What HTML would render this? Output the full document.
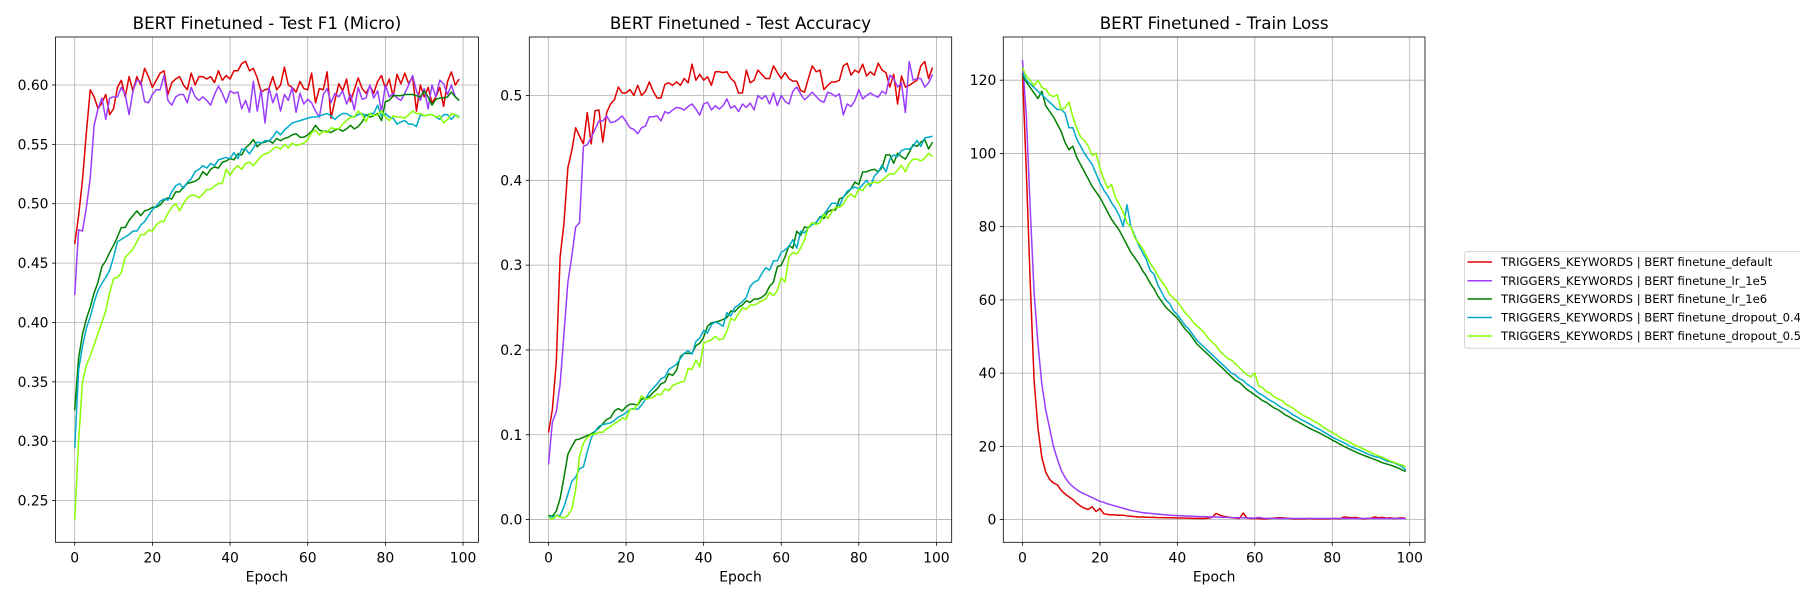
<!DOCTYPE html>
<html><head><meta charset="utf-8">
<style>
html,body{margin:0;padding:0;background:#fff;}
svg{display:block;font-family:"DejaVu Sans","Liberation Sans",sans-serif;}
</style></head>
<body>
<svg id="fig" width="1800" height="600" viewBox="0 0 1800 600" xmlns="http://www.w3.org/2000/svg"></svg>
<script>
const epochs = Array.from({length:100},(_,i)=>i);
const seriesNames = ["TRIGGERS_KEYWORDS | BERT finetune_default","TRIGGERS_KEYWORDS | BERT finetune_lr_1e5","TRIGGERS_KEYWORDS | BERT finetune_lr_1e6","TRIGGERS_KEYWORDS | BERT finetune_dropout_0.4","TRIGGERS_KEYWORDS | BERT finetune_dropout_0.5"];
const seriesKeys = ["default","lr-1e5","lr-1e6","dropout-0-4","dropout-0-5"];
const seriesColors = ["#e00000","#9b3dff","#008000","#00aac8","#88ff00"];

const f1Default = [0.466,0.49,0.52,0.56,0.596,0.59,0.58,0.585,0.592,0.575,0.58,0.598,0.604,0.59,0.607,0.595,0.607,0.60,0.614,0.607,0.598,0.604,0.61,0.612,0.592,0.602,0.605,0.607,0.60,0.596,0.61,0.60,0.607,0.607,0.605,0.607,0.602,0.612,0.604,0.608,0.605,0.612,0.612,0.618,0.62,0.612,0.614,0.606,0.594,0.596,0.597,0.607,0.596,0.6,0.615,0.6,0.598,0.594,0.603,0.597,0.596,0.61,0.585,0.597,0.596,0.611,0.572,0.587,0.601,0.595,0.605,0.586,0.596,0.606,0.597,0.593,0.599,0.593,0.603,0.608,0.597,0.605,0.59,0.609,0.601,0.61,0.601,0.607,0.578,0.6,0.59,0.598,0.585,0.59,0.598,0.582,0.603,0.611,0.6,0.605];
const f1Lr1e5 = [0.423,0.478,0.477,0.497,0.522,0.566,0.58,0.589,0.571,0.589,0.59,0.59,0.598,0.592,0.575,0.595,0.604,0.603,0.586,0.585,0.592,0.596,0.596,0.608,0.587,0.583,0.59,0.592,0.592,0.585,0.598,0.59,0.587,0.59,0.587,0.583,0.592,0.599,0.593,0.585,0.595,0.593,0.594,0.58,0.587,0.577,0.603,0.578,0.596,0.568,0.598,0.585,0.593,0.578,0.592,0.587,0.598,0.577,0.593,0.584,0.588,0.585,0.578,0.573,0.592,0.597,0.585,0.593,0.59,0.595,0.584,0.592,0.579,0.598,0.588,0.589,0.6,0.589,0.595,0.578,0.6,0.59,0.593,0.589,0.587,0.593,0.6,0.608,0.595,0.587,0.597,0.58,0.6,0.59,0.604,0.601,0.592,0.6,0.59,0.587];
const f1Lr1e6 = [0.326,0.37,0.39,0.403,0.413,0.425,0.434,0.447,0.452,0.459,0.465,0.472,0.48,0.48,0.486,0.49,0.494,0.49,0.494,0.495,0.497,0.497,0.499,0.503,0.505,0.504,0.51,0.51,0.514,0.517,0.518,0.519,0.521,0.527,0.524,0.529,0.531,0.53,0.535,0.536,0.538,0.537,0.542,0.541,0.547,0.55,0.554,0.548,0.551,0.552,0.553,0.551,0.555,0.553,0.555,0.556,0.558,0.559,0.556,0.556,0.558,0.561,0.566,0.562,0.561,0.561,0.56,0.562,0.563,0.561,0.563,0.566,0.563,0.565,0.569,0.575,0.573,0.574,0.576,0.57,0.586,0.587,0.591,0.591,0.591,0.592,0.592,0.592,0.591,0.59,0.595,0.59,0.583,0.588,0.589,0.589,0.59,0.594,0.59,0.587];
const f1Drop04 = [0.294,0.36,0.38,0.395,0.405,0.417,0.427,0.433,0.438,0.444,0.455,0.468,0.47,0.472,0.474,0.477,0.477,0.482,0.485,0.49,0.495,0.498,0.502,0.504,0.503,0.51,0.515,0.517,0.513,0.518,0.521,0.527,0.529,0.532,0.53,0.534,0.532,0.537,0.538,0.539,0.538,0.543,0.538,0.546,0.546,0.542,0.547,0.552,0.551,0.553,0.553,0.556,0.561,0.558,0.562,0.565,0.568,0.569,0.57,0.571,0.572,0.573,0.573,0.574,0.575,0.576,0.574,0.571,0.574,0.576,0.576,0.574,0.573,0.575,0.576,0.574,0.576,0.576,0.583,0.574,0.576,0.573,0.572,0.567,0.569,0.57,0.567,0.567,0.565,0.575,0.574,0.575,0.575,0.573,0.571,0.575,0.575,0.571,0.575,0.573];
const f1Drop05 = [0.234,0.3,0.35,0.364,0.372,0.381,0.391,0.4,0.41,0.425,0.437,0.438,0.442,0.455,0.458,0.462,0.468,0.474,0.474,0.478,0.477,0.482,0.485,0.485,0.492,0.497,0.5,0.494,0.5,0.505,0.507,0.507,0.505,0.508,0.512,0.512,0.515,0.517,0.517,0.529,0.524,0.529,0.532,0.529,0.534,0.535,0.532,0.536,0.54,0.542,0.543,0.546,0.548,0.546,0.55,0.547,0.551,0.549,0.55,0.551,0.554,0.56,0.562,0.558,0.561,0.56,0.564,0.563,0.563,0.567,0.57,0.573,0.573,0.578,0.575,0.569,0.576,0.574,0.575,0.578,0.573,0.57,0.574,0.573,0.573,0.572,0.575,0.578,0.576,0.576,0.574,0.575,0.575,0.573,0.574,0.568,0.571,0.576,0.575,0.572];

const accDefault = [0.1025,0.13,0.185,0.31,0.35,0.415,0.435,0.462,0.452,0.443,0.48,0.443,0.482,0.483,0.445,0.48,0.49,0.495,0.51,0.503,0.503,0.507,0.5,0.512,0.5,0.505,0.516,0.505,0.497,0.497,0.513,0.515,0.512,0.516,0.512,0.52,0.515,0.537,0.518,0.525,0.518,0.522,0.512,0.528,0.528,0.527,0.528,0.52,0.516,0.503,0.503,0.53,0.515,0.518,0.53,0.525,0.52,0.52,0.535,0.527,0.52,0.527,0.52,0.517,0.517,0.506,0.504,0.52,0.535,0.528,0.53,0.507,0.512,0.516,0.516,0.518,0.535,0.538,0.524,0.53,0.527,0.537,0.523,0.528,0.524,0.538,0.53,0.527,0.51,0.525,0.49,0.523,0.51,0.512,0.515,0.518,0.535,0.54,0.52,0.533];
const accLr1e5 = [0.065,0.115,0.127,0.16,0.22,0.28,0.31,0.345,0.35,0.44,0.442,0.45,0.46,0.47,0.47,0.476,0.468,0.469,0.472,0.476,0.469,0.462,0.46,0.455,0.462,0.464,0.475,0.475,0.476,0.47,0.481,0.479,0.483,0.486,0.485,0.483,0.487,0.49,0.484,0.477,0.49,0.492,0.483,0.488,0.484,0.488,0.496,0.485,0.488,0.481,0.49,0.486,0.491,0.483,0.5,0.496,0.5,0.49,0.503,0.488,0.5,0.493,0.49,0.505,0.51,0.502,0.495,0.499,0.504,0.499,0.494,0.492,0.504,0.502,0.499,0.502,0.477,0.49,0.487,0.494,0.507,0.496,0.5,0.503,0.5,0.498,0.505,0.502,0.524,0.52,0.51,0.515,0.48,0.54,0.518,0.52,0.52,0.51,0.515,0.525,0.517];
const accLr1e6 = [0.005,0.004,0.01,0.025,0.05,0.077,0.086,0.094,0.095,0.097,0.099,0.101,0.104,0.108,0.113,0.118,0.12,0.128,0.131,0.128,0.133,0.136,0.136,0.135,0.142,0.143,0.145,0.15,0.154,0.16,0.162,0.172,0.17,0.176,0.192,0.196,0.196,0.196,0.205,0.208,0.215,0.228,0.232,0.233,0.234,0.236,0.238,0.246,0.245,0.25,0.253,0.258,0.256,0.26,0.26,0.262,0.266,0.275,0.28,0.298,0.3,0.31,0.323,0.32,0.34,0.335,0.345,0.344,0.348,0.35,0.357,0.355,0.363,0.365,0.365,0.378,0.38,0.385,0.39,0.398,0.395,0.41,0.41,0.412,0.413,0.41,0.415,0.43,0.43,0.42,0.432,0.428,0.425,0.433,0.442,0.44,0.445,0.448,0.437,0.445];
const accDrop04 = [0.004,0.003,0.005,0.005,0.015,0.03,0.045,0.05,0.06,0.062,0.08,0.096,0.104,0.11,0.112,0.113,0.114,0.117,0.121,0.123,0.126,0.13,0.131,0.13,0.135,0.142,0.15,0.155,0.16,0.166,0.168,0.177,0.18,0.183,0.19,0.196,0.199,0.195,0.21,0.214,0.223,0.22,0.23,0.233,0.231,0.228,0.244,0.24,0.25,0.253,0.257,0.262,0.275,0.28,0.282,0.29,0.297,0.294,0.305,0.305,0.315,0.318,0.322,0.33,0.32,0.34,0.338,0.344,0.348,0.35,0.356,0.36,0.366,0.373,0.373,0.37,0.38,0.387,0.39,0.392,0.39,0.395,0.4,0.393,0.405,0.41,0.418,0.41,0.425,0.43,0.428,0.435,0.437,0.437,0.44,0.447,0.44,0.45,0.451,0.452];
const accDrop05 = [0.003,0.0,0.005,0.003,0.002,0.005,0.012,0.035,0.075,0.09,0.097,0.1,0.101,0.103,0.103,0.107,0.11,0.113,0.116,0.12,0.118,0.13,0.13,0.136,0.146,0.142,0.143,0.144,0.148,0.147,0.154,0.152,0.158,0.16,0.162,0.163,0.178,0.177,0.188,0.18,0.208,0.21,0.212,0.216,0.212,0.213,0.222,0.237,0.235,0.243,0.25,0.248,0.253,0.253,0.255,0.258,0.26,0.268,0.264,0.27,0.285,0.28,0.31,0.315,0.313,0.32,0.33,0.345,0.35,0.348,0.35,0.36,0.355,0.363,0.368,0.368,0.372,0.38,0.384,0.38,0.39,0.388,0.395,0.396,0.398,0.397,0.4,0.404,0.408,0.407,0.412,0.418,0.41,0.42,0.425,0.425,0.423,0.426,0.432,0.428];

const lossDefault = [122,95,65,38,25,17,13,11,10,9.5,8,7,6.2,5.5,4.5,3.7,3.1,2.8,3.5,2.2,3,1.6,1.4,1.3,1.3,1.2,1.2,1,0.9,0.8,0.7,0.7,0.65,0.6,0.6,0.55,0.55,0.5,0.5,0.5,0.45,0.45,0.4,0.4,0.35,0.35,0.3,0.3,0.4,0.6,1.7,1.2,0.9,0.7,0.5,0.4,0.3,1.8,0.4,0.3,0.3,0.3,0.2,0.2,0.3,0.4,0.5,0.5,0.4,0.3,0.2,0.2,0.2,0.2,0.3,0.2,0.2,0.2,0.2,0.2,0.3,0.3,0.2,0.7,0.6,0.5,0.6,0.4,0.2,0.3,0.4,0.7,0.5,0.6,0.4,0.5,0.3,0.4,0.5,0.3];
const lossLr1e5 = [125.5,110,85,62,48,37,30,25,20,16.5,13.5,11.5,10,9,8.2,7.5,7,6.5,6,5.5,5,4.7,4.3,4,3.7,3.4,3.1,2.8,2.5,2.3,2.1,1.9,1.8,1.7,1.6,1.5,1.4,1.3,1.2,1.15,1.1,1.05,1,0.95,0.9,0.85,0.8,0.8,0.75,0.7,0.7,0.65,0.6,0.6,0.55,0.5,0.5,0.5,0.45,0.45,0.4,0.6,0.4,0.35,0.35,0.3,0.3,0.3,0.3,0.3,0.3,0.3,0.3,0.3,0.3,0.3,0.3,0.3,0.3,0.3,0.3,0.3,0.3,0.3,0.3,0.3,0.3,0.3,0.3,0.3,0.3,0.3,0.3,0.3,0.3,0.3,0.3,0.3,0.3,0.3];
const lossLr1e6 = [121,119.5,118,116.5,115,117,113,111.5,110,108,106,103,101,102,99,97,95,93,91,89.5,88,86,84,82,80.5,79,77,75,73,71.5,70,68,66.5,64.5,63,61,59.5,58,57,56,55,53.5,52,51,49.5,48,47,46,45,44,43,42,41,40,39,38,37.5,36.5,35.5,34.8,34,33.3,32.5,32,31.2,30.5,30,29.3,28.5,28,27.3,26.8,26.2,25.6,25,24.5,24,23.5,22.9,22.4,21.7,21.2,20.6,20,19.5,19,18.5,18,17.6,17.2,16.8,16.4,16,15.5,15.2,14.9,14.5,14.1,13.6,13.1];
const lossDrop04 = [122,120,119,118,117,116,115,114,113,112,112,111,107,107,104,102,100,98.5,97,94.5,92,90,88.5,86.5,85,83,80,86,80,77.5,75,73,71,68,67,64,62,60,59,57,56,54.5,53,52,50.5,49,48,47,46,45,44,43,42,41,40,39.5,38.5,38,37,36.3,35.5,34.5,34,33.2,32.5,32,31.2,30.5,30,29.3,28.5,28,27.3,26.8,26.2,25.6,25,24.5,23.8,23.2,22.5,22,21.5,21,20.4,19.8,19.4,19,18.5,18,17.6,17.2,17,16.6,16,15.8,15.5,15,14.5,13.5];
const lossDrop05 = [123.5,121,120,118.5,120,118,117.5,116,115.5,116,112,112.5,114,110,107,104.5,103.5,102,99.5,100,96,93,90.5,91.5,88,86,84,81,80,77,75.5,74,72,70,68.5,66.5,65,63.5,61.5,60.5,59.5,58,56.5,55.5,54,53,52,51,49.5,48.5,47.5,46,45,44,43.5,42.5,41.5,40.5,39.5,39,40,36.5,36,35,34.5,33.5,33,32.5,31.5,31,30.3,29.5,28.8,28.2,27.7,27,26.5,25.8,25,24.4,23.8,23.2,22.4,21.9,21.4,20.8,20.3,19.8,19.3,18.8,18.3,17.8,17.4,17,16.5,16,15.6,15.2,14.9,14.4];

const xTicks = [0,20,40,60,80,100];
const f1Ticks = [0.25,0.30,0.35,0.40,0.45,0.50,0.55,0.60];
const accTicks = [0.0,0.1,0.2,0.3,0.4,0.5];
const lossTicks = [0,20,40,60,80,100,120];

const NS="http://www.w3.org/2000/svg";
const svg=document.getElementById('fig');
function mk(tag,attrs,parent){const e=document.createElementNS(NS,tag);for(const k in attrs)e.setAttribute(k,attrs[k]);(parent||svg).appendChild(e);return e;}

const panels=[
 {key:"f1",title:"BERT Finetuned - Test F1 (Micro)",left:55.5,right:478.4,ymin:0.2149,ymax:0.6404,ticks:f1Ticks,fmt:v=>v.toFixed(2),data:[f1Default,f1Lr1e5,f1Lr1e6,f1Drop04,f1Drop05]},
 {key:"accuracy",title:"BERT Finetuned - Test Accuracy",left:529.3,right:951.7,ymin:-0.0268,ymax:0.569,ticks:accTicks,fmt:v=>v.toFixed(1),data:[accDefault,accLr1e5,accLr1e6,accDrop04,accDrop05]},
 {key:"loss",title:"BERT Finetuned - Train Loss",left:1003.3,right:1425,ymin:-6.2,ymax:131.8,ticks:lossTicks,fmt:v=>String(v),data:[lossDefault,lossLr1e5,lossLr1e6,lossDrop04,lossDrop05]}
];
const TOP=37, BOT=542.3, XMIN=-4.95, XMAX=103.95;

panels.forEach(p=>{
  const g=mk('g',{});
  
  
  const xs=v=>p.left+(v-XMIN)/(XMAX-XMIN)*(p.right-p.left);
  const ys=v=>BOT-(v-p.ymin)/(p.ymax-p.ymin)*(BOT-TOP);
  // grid
  xTicks.forEach(t=>{
    const l=mk('line',{x1:xs(t),x2:xs(t),y1:TOP,y2:BOT,stroke:'#b0b0b0','stroke-width':0.8},g);
    
    
  });
  p.ticks.forEach(t=>{
    const l=mk('line',{x1:p.left,x2:p.right,y1:ys(t),y2:ys(t),stroke:'#b0b0b0','stroke-width':0.8},g);
    
    
  });
  // series
  const clipId='clip-'+p.key;
  const cp=mk('clipPath',{id:clipId},g);
  mk('rect',{x:p.left,y:TOP,width:p.right-p.left,height:BOT-TOP},cp);
  p.data.forEach((arr,si)=>{
    const d=arr.map((v,i)=>(i?'L':'M')+xs(epochs[i]).toFixed(2)+','+ys(v).toFixed(2)).join('');
    const path=mk('path',{d:d,fill:'none',stroke:seriesColors[si],'stroke-width':1.5,'stroke-linejoin':'round','clip-path':'url(#'+clipId+')'},g);
    
    
  });
  // frame
  const fr=mk('rect',{x:p.left,y:TOP,width:p.right-p.left,height:BOT-TOP,fill:'none',stroke:'#000','stroke-width':0.8},g);
  
  
  // ticks
  xTicks.forEach(t=>{
    mk('line',{x1:xs(t),x2:xs(t),y1:BOT,y2:BOT+3.5,stroke:'#000','stroke-width':0.8},g);
    const tx=mk('text',{x:xs(t),y:BOT+20,'text-anchor':'middle','font-size':13.9,fill:'#000'},g);
    tx.textContent=t;
    
    
  });
  p.ticks.forEach(t=>{
    mk('line',{x1:p.left-3.5,x2:p.left,y1:ys(t),y2:ys(t),stroke:'#000','stroke-width':0.8},g);
    const tx=mk('text',{x:p.left-7,y:ys(t)+5,'text-anchor':'end','font-size':13.9,fill:'#000'},g);
    tx.textContent=p.fmt(t);
    
    
  });
  const xl=mk('text',{x:(p.left+p.right)/2,y:581.5,'text-anchor':'middle','font-size':13.9,fill:'#000'},g);
  xl.textContent='Epoch';
  
  
  const tt=mk('text',{x:(p.left+p.right)/2,y:29,'text-anchor':'middle','font-size':16.7,fill:'#000'},g);
  tt.textContent=p.title;
  
  
});

// legend
const lg=mk('g',{});


mk('rect',{x:1464.5,y:251.7,width:345,height:96.5,rx:2.5,fill:'#fff','fill-opacity':0.8,stroke:'#cccccc','stroke-width':0.8},lg);
const rowY=[262,280.7,299,317.5,336];
seriesNames.forEach((n,i)=>{
  const e=mk('g',{},lg);
  
  
  mk('line',{x1:1467.5,x2:1492,y1:rowY[i],y2:rowY[i],stroke:seriesColors[i],'stroke-width':1.5},e);
  const t=mk('text',{x:1501,y:rowY[i]+4.2,'font-size':11.6,fill:'#000'},e);
  t.textContent=n;
});
</script>
</body></html>
